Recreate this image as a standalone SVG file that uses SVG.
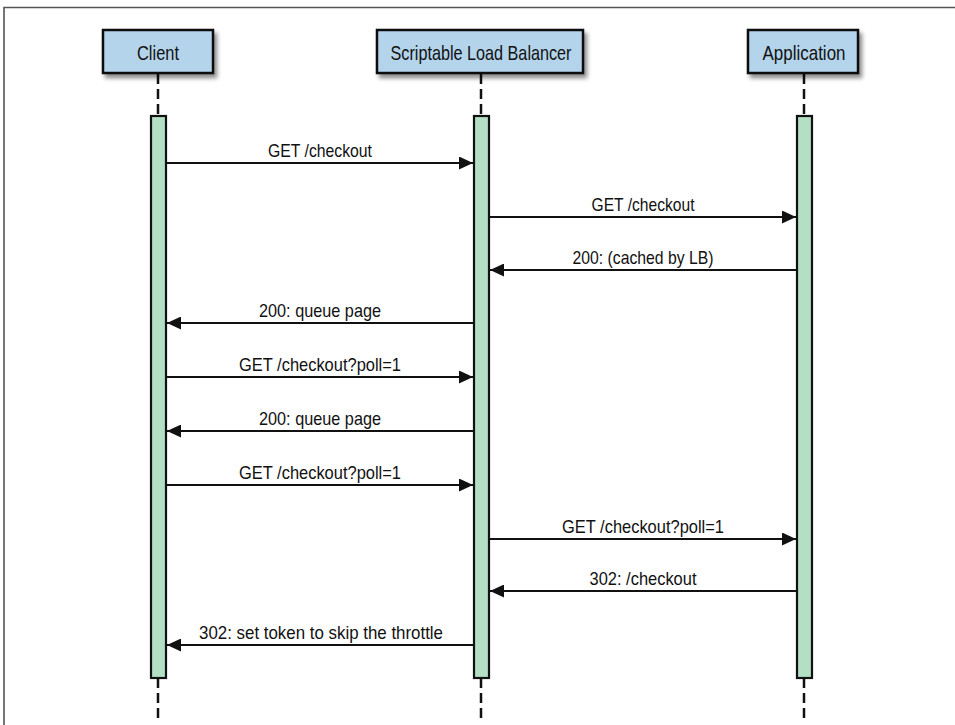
<svg xmlns="http://www.w3.org/2000/svg" width="955" height="725" viewBox="0 0 955 725">
<defs>
<style>
.frame{fill:none;stroke:#555;stroke-width:1.6}
.box{fill:#b4d4eb;stroke:#111;stroke-width:2.5}
.life{stroke:#111;stroke-width:2.5;stroke-dasharray:10,5}
.act{fill:#b3dfc5;stroke:#111;stroke-width:2.2}
.msg{stroke:#111;stroke-width:2;fill:none}
.lbl{font-family:"Liberation Sans",Arial,sans-serif;font-size:18.5px;fill:#111;text-anchor:middle}
.title{font-family:"Liberation Sans",Arial,sans-serif;font-size:21px;fill:#111;text-anchor:middle}
</style>
<filter id="sh" x="-20%" y="-30%" width="150%" height="170%">
<feGaussianBlur in="SourceAlpha" stdDeviation="2"/>
<feOffset dx="3" dy="4" result="b"/>
<feComponentTransfer><feFuncA type="linear" slope="0.45"/></feComponentTransfer>
<feMerge><feMergeNode/><feMergeNode in="SourceGraphic"/></feMerge>
</filter>
<marker id="ah" markerWidth="15" markerHeight="13" refX="14" refY="6.5" orient="auto" markerUnits="userSpaceOnUse">
<path d="M0,0 L14,6.5 L0,13 Z" fill="#111"/>
</marker>
</defs>
<rect width="955" height="725" fill="#fff"/>
<path class="frame" d="M4,725 V7.5 H955"/>

<g id="client">
<line class="life" x1="158" y1="74" x2="158" y2="116"/>
<line class="life" x1="158" y1="678" x2="158" y2="718"/>
<rect class="box" x="103" y="30" width="110" height="43" filter="url(#sh)"/>
<text class="title" x="158" y="60" textLength="42" lengthAdjust="spacingAndGlyphs">Client</text>
<rect class="act" x="151" y="116" width="15" height="562"/>
</g>

<g id="loadbalancer">
<line class="life" x1="481" y1="74" x2="481" y2="116"/>
<line class="life" x1="481" y1="678" x2="481" y2="718"/>
<rect class="box" x="377" y="30" width="206" height="43" filter="url(#sh)"/>
<text class="title" x="481" y="60" textLength="181" lengthAdjust="spacingAndGlyphs">Scriptable Load Balancer</text>
<rect class="act" x="474" y="116" width="15" height="562"/>
</g>

<g id="application">
<line class="life" x1="804" y1="74" x2="804" y2="116"/>
<line class="life" x1="804" y1="678" x2="804" y2="718"/>
<rect class="box" x="748" y="30" width="110" height="43" filter="url(#sh)"/>
<text class="title" x="804" y="60" textLength="83" lengthAdjust="spacingAndGlyphs">Application</text>
<rect class="act" x="797" y="116" width="15" height="562"/>
</g>

<g id="connectors">
<line class="msg" x1="167" y1="163" x2="473" y2="163" marker-end="url(#ah)"/>
<text class="lbl" x="320" y="157" textLength="104" lengthAdjust="spacingAndGlyphs">GET /checkout</text>

<line class="msg" x1="490" y1="217" x2="796" y2="217" marker-end="url(#ah)"/>
<text class="lbl" x="643" y="211" textLength="103" lengthAdjust="spacingAndGlyphs">GET /checkout</text>

<line class="msg" x1="797" y1="270" x2="490" y2="270" marker-end="url(#ah)"/>
<text class="lbl" x="643" y="264" textLength="141" lengthAdjust="spacingAndGlyphs">200: (cached by LB)</text>

<line class="msg" x1="474" y1="323" x2="167" y2="323" marker-end="url(#ah)"/>
<text class="lbl" x="320" y="317" textLength="122" lengthAdjust="spacingAndGlyphs">200: queue page</text>

<line class="msg" x1="167" y1="377" x2="473" y2="377" marker-end="url(#ah)"/>
<text class="lbl" x="320" y="371" textLength="162" lengthAdjust="spacingAndGlyphs">GET /checkout?poll=1</text>

<line class="msg" x1="474" y1="431" x2="167" y2="431" marker-end="url(#ah)"/>
<text class="lbl" x="320" y="425" textLength="122" lengthAdjust="spacingAndGlyphs">200: queue page</text>

<line class="msg" x1="167" y1="485" x2="473" y2="485" marker-end="url(#ah)"/>
<text class="lbl" x="320" y="479" textLength="162" lengthAdjust="spacingAndGlyphs">GET /checkout?poll=1</text>

<line class="msg" x1="490" y1="539" x2="796" y2="539" marker-end="url(#ah)"/>
<text class="lbl" x="643" y="533" textLength="162" lengthAdjust="spacingAndGlyphs">GET /checkout?poll=1</text>

<line class="msg" x1="797" y1="591" x2="490" y2="591" marker-end="url(#ah)"/>
<text class="lbl" x="643" y="585" textLength="107" lengthAdjust="spacingAndGlyphs">302: /checkout</text>

<line class="msg" x1="474" y1="645" x2="167" y2="645" marker-end="url(#ah)"/>
<text class="lbl" x="321" y="639" textLength="244" lengthAdjust="spacingAndGlyphs">302: set token to skip the throttle</text>
</g>
</svg>
